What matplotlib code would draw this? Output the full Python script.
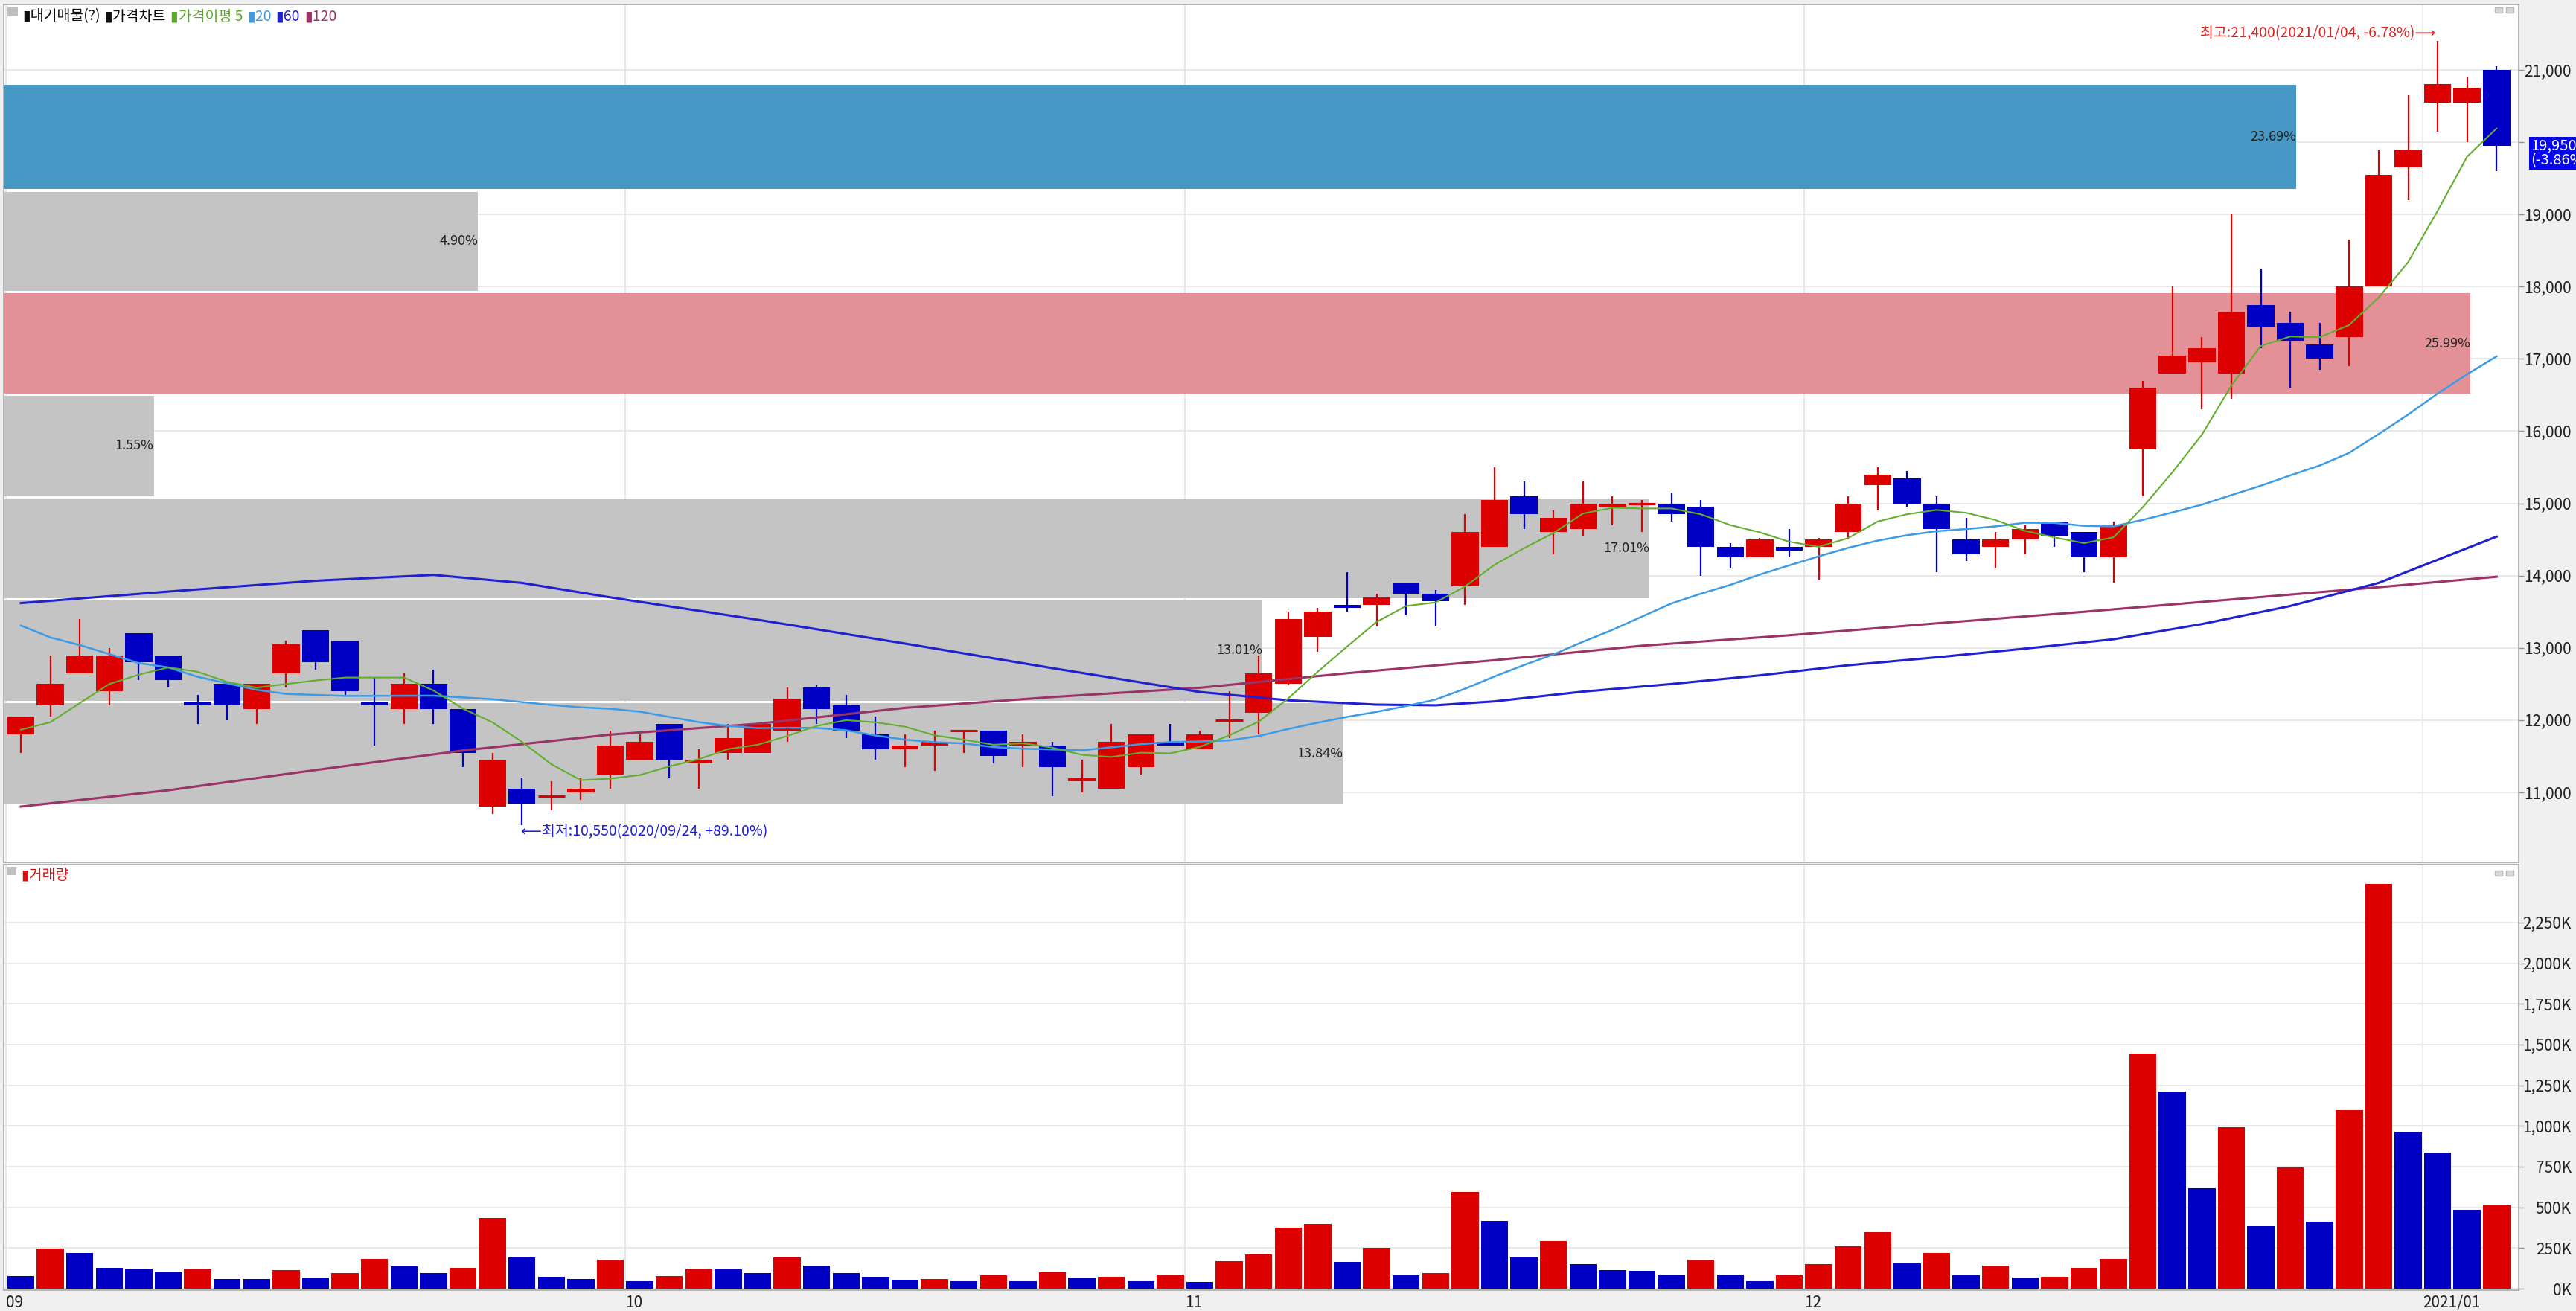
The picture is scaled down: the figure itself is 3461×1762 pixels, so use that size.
import numpy as np
import pandas as pd
import matplotlib
matplotlib.use('Agg')
import matplotlib.pyplot as plt
import matplotlib.transforms as mtransforms
from matplotlib.patches import Rectangle

plt.rcParams['font.family'] = ['Liberation Sans Narrow', 'Noto Sans CJK KR', 'DejaVu Sans']

# daily candles, 2020/09/01 .. 2021/01/06
opens = [11800, 12200, 12650, 12400, 13200, 12900, 12250, 12500, 12150, 12650,
         13250, 13100, 12250, 12150, 12500, 12150, 10800, 11050, 10950, 11000,
         11250, 11450, 11950, 11400, 11550, 11550, 11850, 12450, 12200, 11800,
         11600, 11650, 11850, 11850, 11650, 11650, 11150, 11050, 11350, 11700,
         11600, 12000, 12100, 12500, 13150, 13600, 13600, 13900, 13750, 13850,
         14400, 15100, 14600, 14650, 14950, 15000, 15000, 14950, 14400, 14250,
         14400, 14400, 14600, 15250, 15350, 15000, 14500, 14400, 14500, 14750,
         14600, 14250, 15750, 16800, 16950, 16800, 17750, 17500, 17200, 17300,
         18000, 19650, 20550, 20550, 21000]
highs = [12050, 12900, 13400, 13000, 13200, 12900, 12350, 12500, 12500, 13100,
         13250, 13100, 12600, 12650, 12700, 12150, 11550, 11200, 11150, 11200,
         11850, 11800, 11950, 11600, 11950, 11950, 12450, 12480, 12350, 12050,
         11800, 11850, 11850, 11850, 11800, 11700, 11450, 11950, 11800, 11950,
         11850, 12400, 12900, 13500, 13550, 14050, 13750, 13900, 13800, 14850,
         15500, 15300, 14900, 15300, 15100, 15050, 15150, 15050, 14450, 14520,
         14650, 14520, 15100, 15500, 15450, 15100, 14800, 14600, 14700, 14750,
         14600, 14750, 16700, 18000, 17300, 19000, 18250, 17650, 17500, 18650,
         19900, 20650, 21400, 20900, 21050]
lows = [11550, 12050, 12650, 12200, 12550, 12450, 11950, 12000, 11950, 12450,
        12700, 12350, 11650, 11950, 11950, 11350, 10700, 10550, 10750, 10900,
        11050, 11450, 11200, 11050, 11450, 11550, 11700, 11950, 11750, 11450,
        11350, 11300, 11550, 11400, 11350, 10950, 11000, 11050, 11250, 11650,
        11600, 11750, 11800, 12480, 12950, 13500, 13300, 13450, 13300, 13600,
        14400, 14650, 14300, 14550, 14700, 14600, 14750, 14000, 14100, 14250,
        14250, 13930, 14500, 14900, 14950, 14050, 14200, 14100, 14300, 14400,
        14050, 13900, 15100, 16800, 16300, 16450, 17150, 16600, 16850, 16900,
        18000, 19200, 20150, 20000, 19600]
closes = [12050, 12500, 12900, 12900, 12800, 12550, 12200, 12200, 12500, 13050,
          12800, 12400, 12200, 12500, 12150, 11550, 11450, 10850, 10950, 11050,
          11650, 11700, 11450, 11450, 11750, 11950, 12300, 12150, 11850, 11600,
          11650, 11700, 11850, 11500, 11700, 11350, 11200, 11700, 11800, 11650,
          11800, 12000, 12650, 13400, 13500, 13550, 13700, 13750, 13650, 14600,
          15050, 14850, 14800, 15000, 15000, 15000, 14850, 14400, 14250, 14500,
          14350, 14500, 15000, 15400, 15000, 14650, 14300, 14500, 14650, 14550,
          14250, 14700, 16600, 17050, 17150, 17650, 17450, 17250, 17000, 18000,
          19550, 19900, 20800, 20750, 19950]
volume_k = [77, 246, 219, 130, 123, 102, 123, 60, 58, 116,
            68, 95, 184, 137, 95, 130, 433, 191, 75, 59,
            178, 46, 80, 123, 121, 95, 191, 143, 95, 75,
            53, 61, 46, 82, 46, 102, 68, 75, 46, 89,
            41, 171, 210, 376, 396, 164, 253, 82, 95, 596,
            417, 191, 294, 150, 116, 109, 89, 178, 89, 46,
            82, 150, 259, 349, 157, 219, 82, 143, 68, 75,
            130, 184, 1444, 1213, 617, 993, 383, 747, 410, 1097,
            2487, 965, 835, 487, 514]

# moving-average values before enough history is on screen
ma5_head_idx = [0, 1, 2, 3]
ma5_head = [11868, 11971, 12236, 12500]
ma20_head_idx = [0, 1, 2, 4, 5, 6, 8, 9, 11, 14, 16, 18]
ma20_head = [13310, 13145, 13040, 12790, 12730, 12600, 12420, 12363, 12335, 12339, 12290, 12210]
ma60_idx = [0, 5, 10, 14, 17, 20, 25, 30, 35, 40, 43, 46, 48, 50, 53, 56, 59, 62, 65, 68, 71, 74, 77, 80, 84]
ma60 = [13620, 13780, 13930, 14010, 13900, 13700, 13390, 13060, 12720, 12390, 12275, 12215, 12206,
        12260, 12395, 12500, 12620, 12760, 12870, 12990, 13120, 13330, 13580, 13900, 14540]
ma120_idx = [0, 5, 10, 15, 20, 25, 30, 35, 40, 45, 50, 55, 60, 65, 70, 75, 80, 84]
ma120 = [10804, 11030, 11310, 11580, 11800, 11950, 12170, 12320, 12448, 12650, 12830, 13030,
         13175, 13340, 13500, 13670, 13840, 13985]

# 대기매물 (volume at price) bands
profile_low = [10845, 12267, 13688, 15099, 16520, 17941, 19352]
profile_high = [12236, 13657, 15062, 16489, 17910, 19311, 20794]
profile_pct = [13.84, 13.01, 17.01, 1.55, 25.99, 4.90, 23.69]

month_labels = ['09', '10', '11', '12', '2021/01']
month_start = [0, 21, 40, 61, 82]

RED = '#DD0000'
BLUE = '#0000C4'
W, H = 3461, 1762

o = np.array(opens, float)
c = np.array(closes, float)
hi = np.array(highs, float)
lo = np.array(lows, float)
vol = np.array(volume_k, float)
n = len(c)
x = np.arange(n)

s = pd.Series(c)
ma5_x = ma5_head_idx + list(range(4, n))
ma5_y = ma5_head + list(s.rolling(5).mean().values[4:])
ma20_x = ma20_head_idx + list(range(19, n))
ma20_y = ma20_head + list(s.rolling(20).mean().values[19:])

fig = plt.figure(figsize=(W / 100, H / 100), dpi=100, facecolor='#F0F0F0')


def px_box(x0, y0, x1, y1):
    return [x0 / W, 1 - y1 / H, (x1 - x0) / W, (y1 - y0) / H]


ax = fig.add_axes(px_box(5, 6, 3384, 1159))
axv = fig.add_axes(px_box(5, 1162, 3384, 1734))

xleft, xright = -0.581, 84.75
for a in (ax, axv):
    a.set_xlim(xleft, xright)
    a.set_facecolor('white')
    for sp in a.spines.values():
        sp.set_color('#A8A8A8')
        sp.set_linewidth(1.2)
    a.set_axisbelow(True)
    for m in month_start:
        a.axvline(m - 0.5, color='#E6E6E6', lw=1.3, zorder=0)

ax.set_ylim(10032, 21906)
axv.set_ylim(-9, 2606)

# grids
price_ticks = list(range(11000, 21001, 1000))
for p in price_ticks:
    ax.axhline(p, color='#E6E6E6', lw=1.3, zorder=0)
vol_ticks = list(range(0, 2251, 250))
for v in vol_ticks:
    axv.axhline(v, color='#E6E6E6', lw=1.3, zorder=0)

# volume profile boxes
cur = c[-1]
imax = int(np.argmax(profile_pct))
for k, (pl, ph, pct) in enumerate(zip(profile_low, profile_high, profile_pct)):
    width = min(pct * 3.283, 83.7)
    if pl <= cur <= ph:
        col = '#4898C5'
    elif k == imax:
        col = '#E39097'
    else:
        col = '#C4C4C4'
    ax.add_patch(Rectangle((xleft, pl), width, ph - pl, facecolor=col, edgecolor='none', zorder=1))
    ax.text(xleft + width, (pl + ph) / 2, f'{pct:.2f}%', ha='right', va='center',
            fontsize=13, color='#202020', zorder=2)

# candles
up = c >= o
ccol = np.where(up, RED, BLUE)
ax.vlines(x, lo, hi, colors=ccol, lw=1.6, zorder=3)
body_lo = np.minimum(o, c)
body_h = np.abs(c - o)
flat = body_h == 0
ax.bar(x[~flat], body_h[~flat], bottom=body_lo[~flat], width=0.92, color=ccol[~flat],
       edgecolor='none', zorder=4)
ax.hlines(c[flat], x[flat] - 0.46, x[flat] + 0.46, colors=ccol[flat], lw=2.2, zorder=4)

# moving averages
ax.plot(ma120_idx, ma120, color='#9B3366', lw=2.2, zorder=5)
ax.plot(ma60_idx, ma60, color='#2020D0', lw=2.2, zorder=5)
ax.plot(ma20_x, ma20_y, color='#3C9BE6', lw=1.8, zorder=5)
ax.plot(ma5_x, ma5_y, color='#62AE2E', lw=1.5, zorder=5)

# high / low marks
ax.text(81.92, 21505, '최고:21,400(2021/01/04, -6.78%)⟶', ha='right', va='center',
        color='#E02020', fontsize=14, zorder=6)
ax.text(16.97, 10454, '⟵최저:10,550(2020/09/24, +89.10%)', ha='left', va='center',
        color='#2020D0', fontsize=14, zorder=6)

# volume bars
vcol = [BLUE] + [RED if vol[i] > vol[i - 1] else BLUE for i in range(1, n)]
axv.bar(x, vol, width=0.92, color=vcol, edgecolor='none', zorder=3)

# axes ticks (the 20,000 label sits under the current-price tag)
price_labels = ['' if p == 20000 else f'{p:,}' for p in price_ticks]
for a, ticks, labels in ((ax, price_ticks, price_labels),
                         (axv, vol_ticks, [f'{v:,}K' for v in vol_ticks])):
    a.yaxis.tick_right()
    a.set_yticks(ticks, labels=labels)
    a.tick_params(axis='y', direction='out', length=5, width=1, color='#909090',
                  labelsize=15, labelcolor='#202020', pad=46)
    plt.setp(a.get_yticklabels(), ha='right')

ax.set_xticks([])
axv.set_xticks([m - 0.5 for m in month_start], labels=month_labels)
axv.tick_params(axis='x', length=0, labelsize=15, labelcolor='#202020', pad=4)
plt.setp(axv.get_xticklabels(), ha='left')

# current price tag
tr = mtransforms.blended_transform_factory(ax.transAxes, ax.transData)
ax.text(1.0047, 19847, f'{closes[-1]:,}\n(-3.86%)', transform=tr, ha='left', va='center',
        color='white', fontsize=14.5, linespacing=0.95, clip_on=False, zorder=10,
        bbox=dict(boxstyle='square,pad=0.08', facecolor='#0808F0', edgecolor='none'))


# panel legends
def chain(x_px, y_px, parts, size):
    r = fig.canvas.get_renderer()
    xx = x_px
    for txt, col in parts:
        t = fig.text(xx / W, 1 - y_px / H, txt, color=col, fontsize=size,
                     ha='left', va='center', family=['Noto Sans CJK KR', 'DejaVu Sans'])
        xx += t.get_window_extent(r).width + 6


def square(x0, y0, w, h, face='#C0C0C0', edge='none'):
    fig.patches.append(Rectangle((x0 / W, 1 - (y0 + h) / H), w / W, h / H,
                                 transform=fig.transFigure, facecolor=face, edgecolor=edge, lw=1))


square(10, 9, 14, 13)
chain(30, 22, [('▮대기매물(?)', '#101010'), ('▮가격차트', '#101010'),
               ('▮가격이평 5', '#5CAA2A'), ('▮20', '#3C9BE6'), ('▮60', '#2020D0'),
               ('▮120', '#9B3366')], 14)
square(10, 1165, 12, 11)
chain(28, 1176, [('▮거래량', '#E01010')], 14)

# little window buttons at the panels' top right
for yb in (10, 1170):
    square(3352, yb, 10, 7, face='#D8D8D8', edge='#B8B8B8')
    square(3367, yb, 10, 7, face='#D8D8D8', edge='#B8B8B8')

fig.savefig('out.png', dpi=100, facecolor=fig.get_facecolor())
